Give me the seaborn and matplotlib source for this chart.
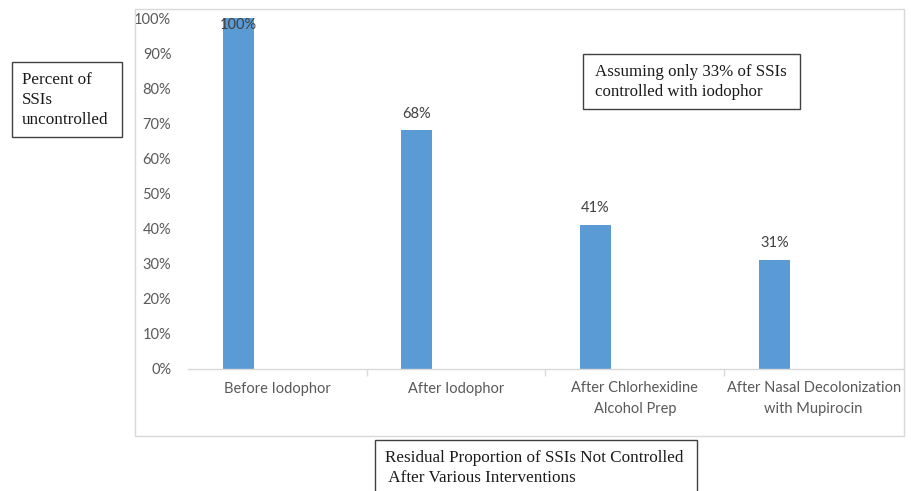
import matplotlib
matplotlib.use("Agg")
import matplotlib.pyplot as plt
from matplotlib.patches import Rectangle
import seaborn as sns
import pandas as pd

categories = ["Before Iodophor", "After Iodophor",
              "After Chlorhexidine\nAlcohol Prep",
              "After Nasal Decolonization\nwith Mupirocin"]
values = [100, 68, 41, 31]
value_labels = ["100%", "68%", "41%", "31%"]
yticks = [0, 10, 20, 30, 40, 50, 60, 70, 80, 90, 100]
ytick_labels = [f"{t}%" for t in yticks]
series = ["Residual", "Empty"]

BLUE = "#5B9BD5"
GRAY_TXT = "#595959"
GRAY_LINE = "#D9D9D9"

sns.set_theme(style="white")
plt.rcParams["font.family"] = ["Lato", "DejaVu Sans"]

W, H = 912, 491
fig = plt.figure(figsize=(W / 100, H / 100), dpi=100)

def fx(px):
    return px / W

def fy(py):
    return 1 - py / H

ax = fig.add_axes([fx(188), fy(369), fx(903) - fx(188), fy(18) - fy(369)])

df = pd.DataFrame({"category": categories, "value": values, "series": series[0]})
sns.barplot(data=df, x="category", y="value", hue="series", hue_order=series,
            palette={s: BLUE for s in series}, order=categories,
            width=0.88, gap=0.607, dodge=True, saturation=1, errorbar=None,
            legend=False, linewidth=0, ax=ax)

ax.set_xlim(-0.5, len(categories) - 0.5)
ax.set_ylim(0, 100)
ax.set_yticks(yticks)
ax.set_yticklabels(ytick_labels)
ax.set_xlabel("")
ax.set_ylabel("")
for s in ["top", "right", "left"]:
    ax.spines[s].set_visible(False)
ax.spines["bottom"].set_color(GRAY_LINE)
ax.spines["bottom"].set_linewidth(1.0)
ax.tick_params(axis="y", length=0, pad=12, labelsize=10.5, labelcolor=GRAY_TXT)
ax.tick_params(axis="x", which="major", length=0, pad=9, labelsize=10.5, labelcolor=GRAY_TXT)
for t in ax.get_xticklabels():
    t.set_linespacing(1.55)
ax.set_xticks([i + 0.5 for i in range(len(categories) - 1)], minor=True)
ax.tick_params(axis="x", which="minor", length=5, width=1, color=GRAY_LINE, bottom=True)
ax.grid(False)

# data labels
bars = [p for p in ax.patches if p.get_height() > 0]
bars.sort(key=lambda p: p.get_x())
for p, lab in zip(bars, value_labels):
    xc = p.get_x() + p.get_width() / 2
    top = p.get_height()
    if top >= ax.get_ylim()[1]:
        ax.annotate(lab, (xc, top), xytext=(0, 0), textcoords="offset points",
                    ha="center", va="top", fontsize=10.5, color="#404040")
    else:
        ax.annotate(lab, (xc, top), xytext=(0, 7), textcoords="offset points",
                    ha="center", va="bottom", fontsize=10.5, color="#404040")

# outer chart frame
fig.patches.append(Rectangle((fx(135), fy(436)), fx(904) - fx(135), fy(9) - fy(436),
                             transform=fig.transFigure, fill=False,
                             edgecolor=GRAY_LINE, linewidth=1.0, zorder=0))

serif = ["Liberation Serif", "DejaVu Serif"]
TXT = "#1a1a1a"

# y label box
fig.patches.append(Rectangle((fx(12), fy(137)), fx(122) - fx(12), fy(62) - fy(137),
                             transform=fig.transFigure, fill=False,
                             edgecolor="#404040", linewidth=1.0))
fig.text(fx(22), fy(100), "Percent of\nSSIs\nuncontrolled", family=serif,
         fontsize=12.3, color=TXT, ha="left", va="center", linespacing=1.3)

# annotation box
fig.patches.append(Rectangle((fx(583), fy(109)), fx(800) - fx(583), fy(54) - fy(109),
                             transform=fig.transFigure, fill=False,
                             edgecolor="#404040", linewidth=1.0))
fig.text(fx(595), fy(82), "Assuming only 33% of SSIs\ncontrolled with iodophor",
         family=serif, fontsize=12.2, color=TXT, ha="left", va="center",
         linespacing=1.3)

# bottom title box
fig.patches.append(Rectangle((fx(375), fy(495)), fx(697) - fx(375), fy(440) - fy(495),
                             transform=fig.transFigure, fill=False,
                             edgecolor="#404040", linewidth=1.0, clip_on=False))
fig.text(fx(385), fy(468), "Residual Proportion of SSIs Not Controlled\n After Various Interventions",
         family=serif, fontsize=12.3, color=TXT, ha="left", va="center",
         linespacing=1.3)

fig.savefig("out.png", dpi=100, facecolor="white")
